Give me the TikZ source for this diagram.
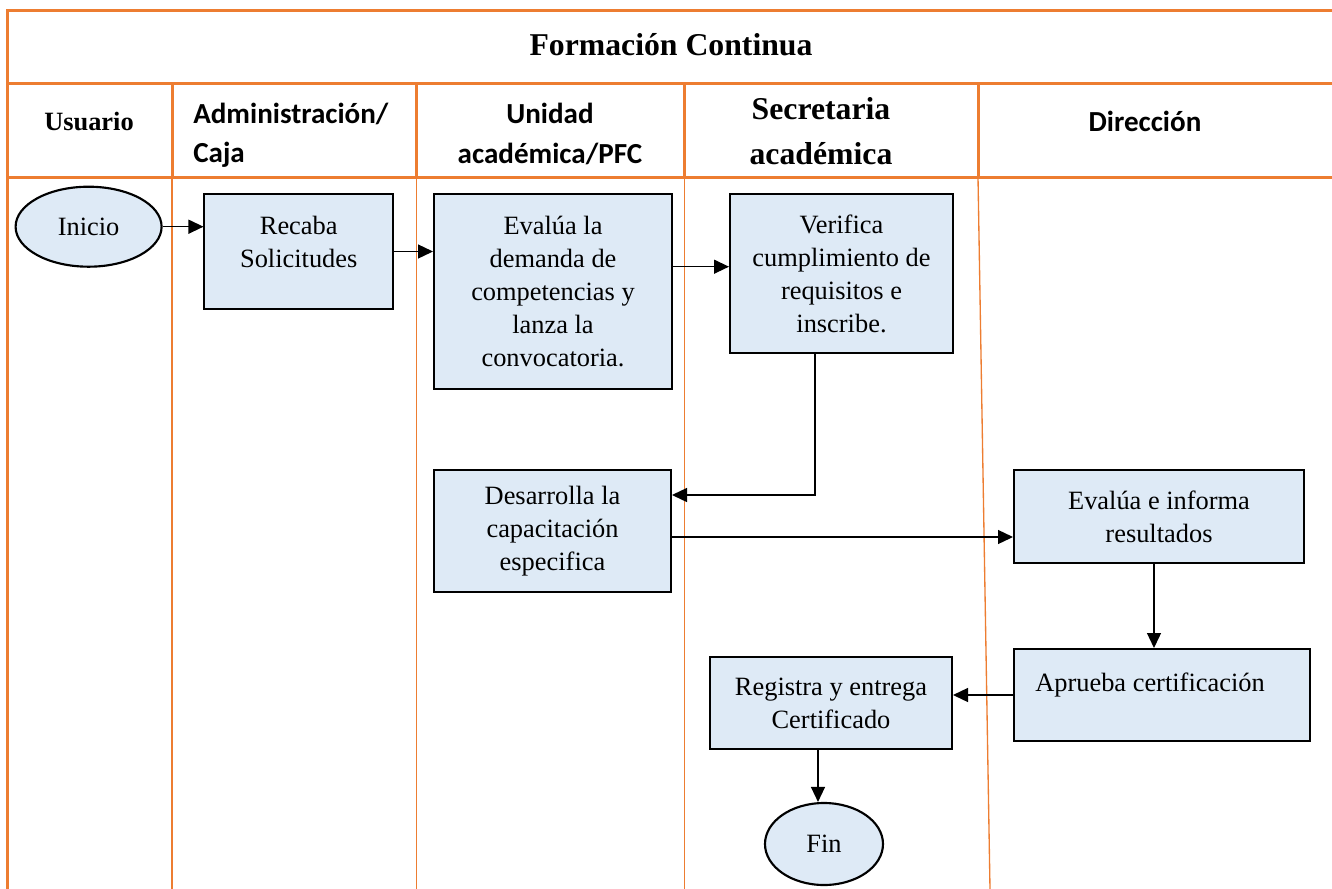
\documentclass[tikz,border=0pt]{standalone}
\usepackage{fontspec}
\setmainfont{Liberation Serif}
\newfontfamily\hdsans{Carlito}
\usetikzlibrary{arrows.meta,shapes.geometric}
\definecolor{laneorange}{HTML}{ED7D31}
\definecolor{boxfill}{HTML}{DEEAF6}

\begin{document}
\begin{tikzpicture}[x=0.75pt,y=-0.75pt,
  frame/.style={draw=laneorange,line width=2.25pt},
  lane/.style={draw=laneorange,line width=1pt},
  bodyfont/.style={font=\fontsize{19.8}{24.75}\selectfont},
  procbox/.style={draw=black,fill=boxfill,line width=1.5pt,inner sep=0pt,align=center,bodyfont},
  terminal/.style={ellipse,draw=black,fill=boxfill,line width=1.6pt,inner sep=0pt,bodyfont},
  boxtext/.style={inner sep=0pt,align=center,bodyfont},
  flow/.style={draw=black,line width=1pt,-{Triangle[length=11.25pt,width=10.5pt]}},
  serifhead/.style={inner sep=0pt,align=center,font=\bfseries\fontsize{23.8}{33.75}\selectfont},
  sanshead/.style={inner sep=0pt,font=\hdsans\bfseries\fontsize{21.8}{29}\selectfont}
]
\useasboundingbox (0,0) rectangle (1332,889);

% swimlane separators
\draw[lane] (172,177) -- (172,889);
\draw[lane] (416.5,177) -- (416.5,889);
\draw[lane] (684.5,177) -- (684.5,889);
\draw[lane] (978,177) -- (990,889);

% outer frame and header grid
\draw[frame] (1332,10.7) -- (7.6,10.7) -- (7.6,889);
\draw[frame] (7.6,83.5) -- (1332,83.5);
\draw[frame] (7.6,177) -- (1332,177);
\foreach \xx in {172,416.5,684.5,978}
  \draw[frame] (\xx,83.5) -- (\xx,177);

% titles
\node[serifhead] (title) at (671,45) {Formación Continua};
\node[serifhead,font=\bfseries\fontsize{19.8}{24}\selectfont] (hUsuario) at (89,121) {Usuario};
\node[sanshead,anchor=west,align=left] (hAdmin) at (193,135) {Administración/\\Caja};
\node[sanshead,align=center,font=\hdsans\bfseries\fontsize{21.8}{30}\selectfont] (hUnidad) at (550,134) {Unidad\\académica/PFC};
\node[serifhead] (hSecretaria) at (821,131) {Secretaria\\académica};
\node[sanshead] (hDireccion) at (1145,121) {Dirección};

% process steps
\node[terminal,minimum width=109.5pt,minimum height=60pt] (inicio) at (88.6,226.7) {Inicio};
\node[procbox,minimum width=141.4pt,minimum height=86.25pt] (recaba) at (298.75,251.5) {};
\node[boxtext] (recabaText) at (298.75,241.5) {Recaba\\Solicitudes};
\node[procbox,minimum width=178.5pt,minimum height=146.25pt] (evalua) at (553,291.5)
  {Evalúa la\\demanda de\\competencias y\\lanza la\\convocatoria.};
\node[procbox,minimum width=167.25pt,minimum height=119.25pt] (verifica) at (841.5,273.5)
  {Verifica\\cumplimiento de\\requisitos e\\inscribe.};
\node[procbox,minimum width=177.75pt,minimum height=91.5pt] (desarrolla) at (552.5,531)
  {Desarrolla la\\capacitación\\especifica};
\node[procbox,minimum width=217.5pt,minimum height=69.75pt] (evalinf) at (1159,516.5)
  {Evalúa e informa\\resultados};
\node[procbox,minimum width=221.6pt,minimum height=69pt] (aprueba) at (1162,695) {};
\node[boxtext] (apruebaText) at (1150,685) {Aprueba certificación};
\node[procbox,minimum width=181.5pt,minimum height=69pt] (registra) at (831,703)
  {Registra y entrega\\Certificado};
\node[terminal,minimum width=88.5pt,minimum height=61.5pt] (fin) at (824,844) {Fin};

% flow connectors
\draw[flow] (inicio.east) -- (inicio.east -| recaba.west);
\draw[flow] (recaba.east) -- (recaba.east -| evalua.west);
\draw[flow] ([yshift=18.6pt]evalua.east) -- ([yshift=18.6pt]evalua.east -| verifica.west);
\coordinate (desIn) at ([yshift=27pt]desarrolla.east);
\draw[flow] ([xshift=-19.9pt]verifica.south) |- (desIn);
\draw[flow] ([yshift=-4.5pt]desarrolla.east) -- ([yshift=-4.5pt]desarrolla.east -| evalinf.west);
\draw[flow] ([xshift=-3.75pt]evalinf.south) -- ([xshift=-3.75pt]evalinf.south |- aprueba.north);
\draw[flow] (aprueba.west) -- (aprueba.west -| registra.east);
\draw[flow] ([xshift=-9.75pt]registra.south) -- ([xshift=-9.75pt]registra.south |- fin.north);
\end{tikzpicture}
\end{document}
